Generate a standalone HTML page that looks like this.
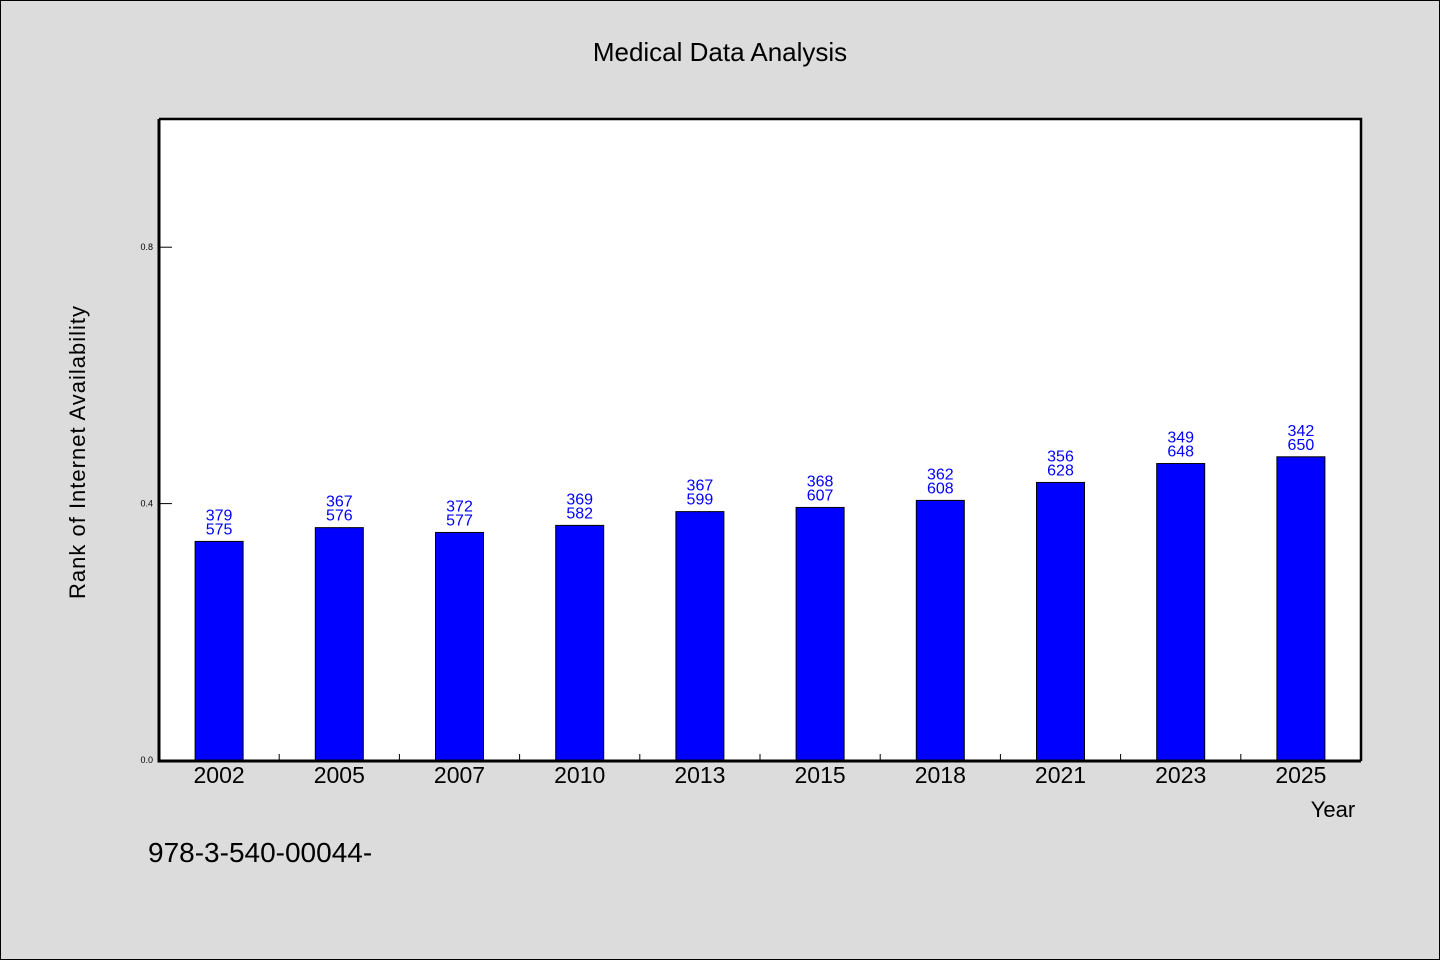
<!DOCTYPE html>
<html><head><meta charset="utf-8"><style>
body{margin:0;background:#dcdcdc;}
svg{display:block;font-family:"WenQuanYi Zen Hei","Liberation Sans",sans-serif;}
</style></head><body>
<svg id="chart" width="1440" height="960">
<rect x="0.5" y="0.5" width="1439" height="959" fill="#dcdcdc" stroke="#000"/>
<text x="720" y="61" text-anchor="middle" font-size="26">Medical Data Analysis</text>
<rect x="159" y="119" width="1202" height="642" fill="#fff"/>
<g id="marks"></g>
<path d="M159,119 H1361 V761" fill="none" stroke="#000" stroke-width="2.5"/>
<path d="M159,119 V761 H1361" fill="none" stroke="#000" stroke-width="3"/>
<text x="1333" y="817" text-anchor="middle" font-size="22">Year</text>
<text transform="translate(85,452) rotate(-90)" text-anchor="middle" font-size="22" letter-spacing="1">Rank of Internet Availability</text>
<text x="148" y="862" font-size="28">978-3-540-00044-</text>
</svg>
<script>
const categories=["2002","2005","2007","2010","2013","2015","2018","2021","2023","2025"];
const values=[0.341,0.3625,0.355,0.366,0.3875,0.394,0.405,0.433,0.4625,0.473];
const labelTop=["379","367","372","369","367","368","362","356","349","342"];
const labelBottom=["575","576","577","582","599","607","608","628","648","650"];
const yTicks=[0.0,0.4,0.8];
const yTickLabels=["0.0","0.4","0.8"];
const X0=159,X1=1361,Y0=760,YT=119;
const band=(X1-X0)/categories.length;
const xC=i=>X0+band*(i+0.5);
const y=v=>Y0-(Y0-YT)*v/1.0;
const g=document.getElementById('marks');
const NS="http://www.w3.org/2000/svg";
function mk(t,a){const e=document.createElementNS(NS,t);for(const k in a)e.setAttribute(k,a[k]);g.appendChild(e);return e;}
yTicks.forEach((v,i)=>{
  const l=mk('line',{x1:X0,x2:X0+13,y1:y(v),y2:y(v),stroke:'#000'});
  
  
  const t=mk('text',{x:X0-6,y:y(v)+3,'text-anchor':'end','font-size':9});
  t.textContent=yTickLabels[i];
  
  
});
categories.forEach((c,i)=>{
  if(i>0){const l=mk('line',{x1:X0+band*i,x2:X0+band*i,y1:Y0-6,y2:Y0,stroke:'#000'});
  
  }
  const bw=48,top=y(values[i]);
  const r=mk('rect',{x:xC(i)-bw/2,y:top,width:bw,height:Y0-top,fill:'#0000ff',stroke:'#000','stroke-width':1});
  
  
  const t1=mk('text',{x:xC(i),y:top-21,'text-anchor':'middle','font-size':16,fill:'#0000ff'});
  t1.textContent=labelTop[i];
  
  
  const t2=mk('text',{x:xC(i),y:top-7,'text-anchor':'middle','font-size':16,fill:'#0000ff'});
  t2.textContent=labelBottom[i];
  
  
  const xl=mk('text',{x:xC(i),y:783,'text-anchor':'middle','font-size':23});
  xl.textContent=c;
  
  
});
</script>
</body></html>
